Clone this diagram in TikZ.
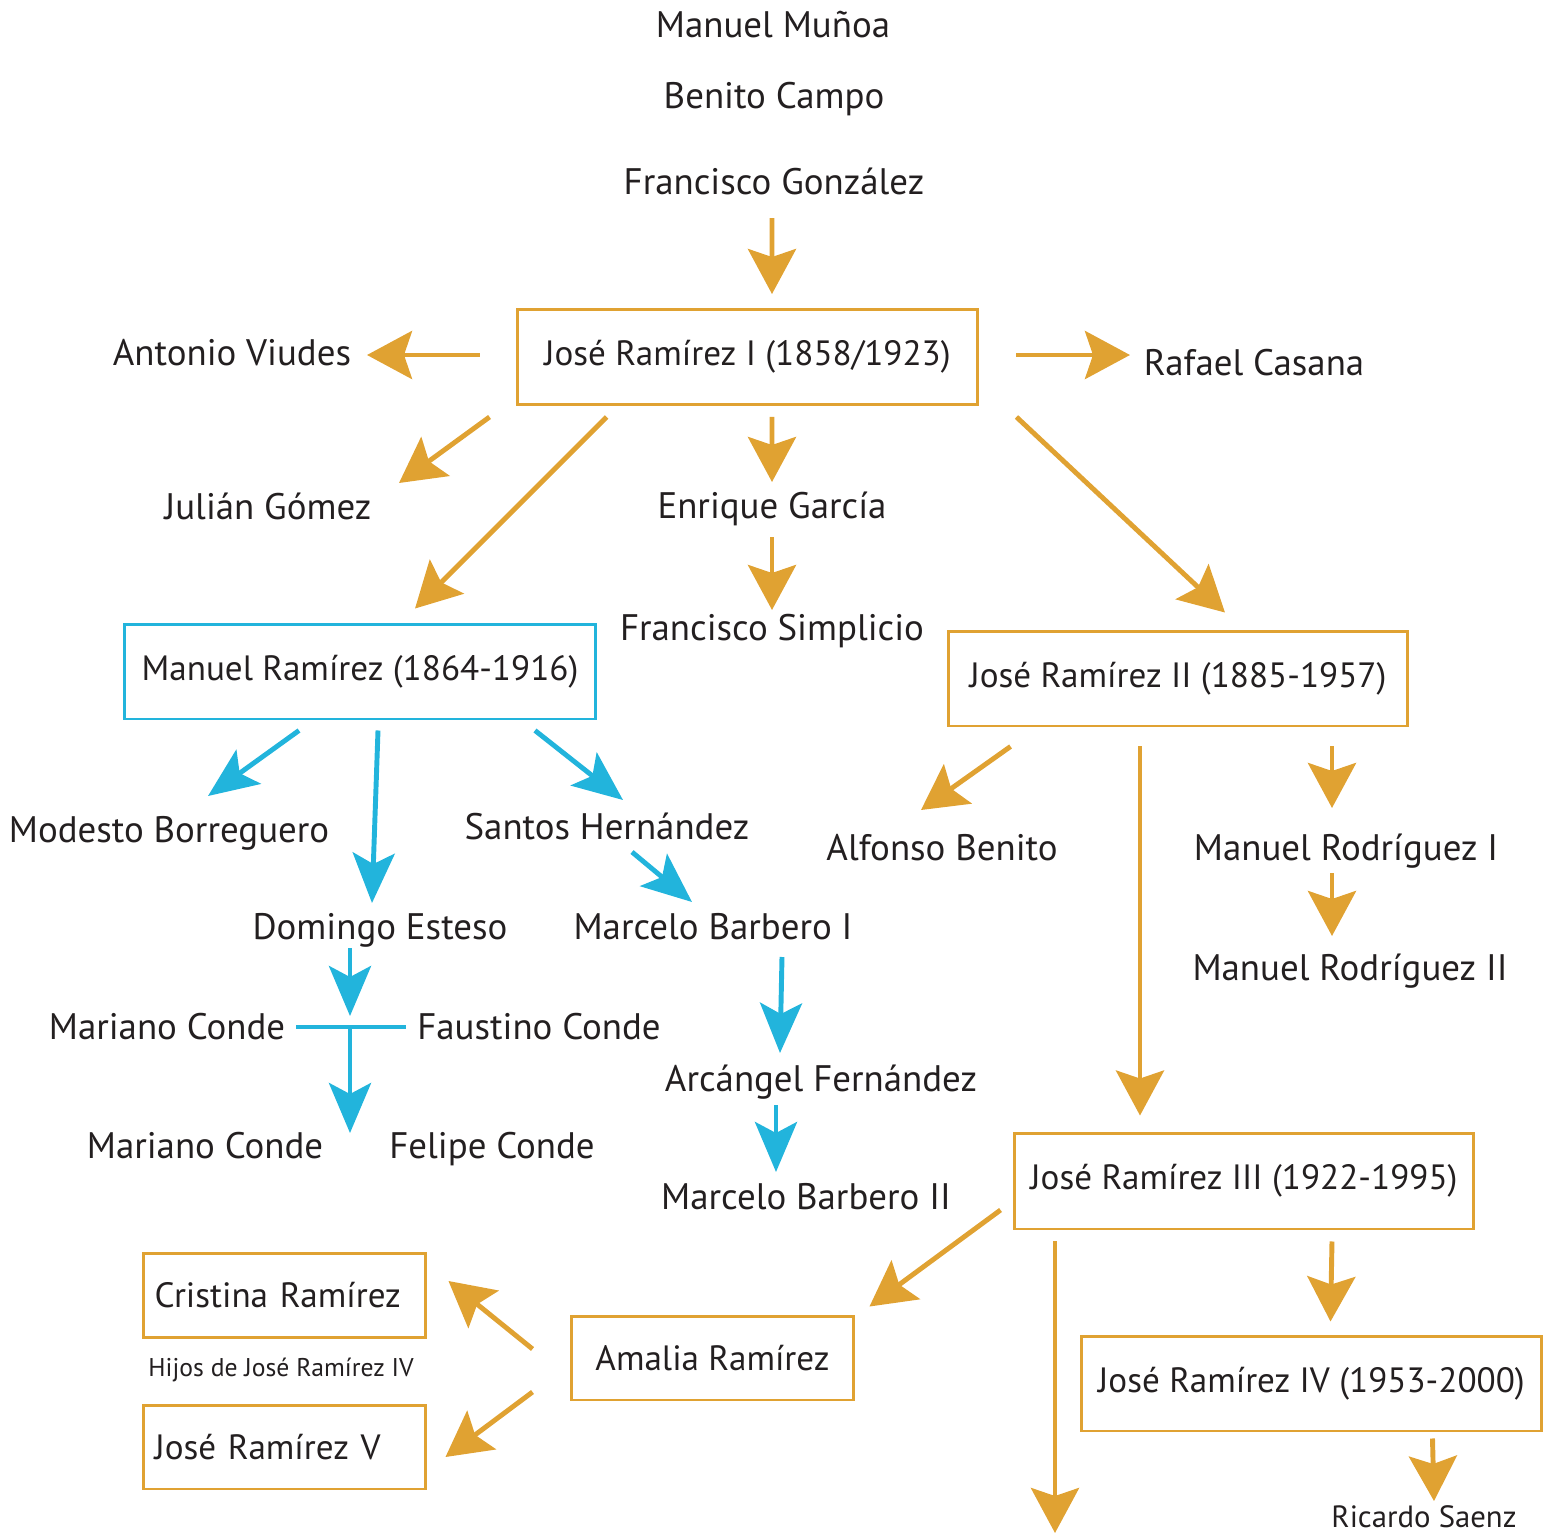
\documentclass[tikz,border=0pt]{standalone}
\usepackage{fontspec}
\setmainfont{PT Sans}
\usetikzlibrary{arrows.meta}
\definecolor{gold}{RGB}{224,162,50}
\definecolor{sky}{RGB}{34,180,220}
\definecolor{ink}{RGB}{35,31,32}

\begin{document}
\begin{tikzpicture}[x=0.02cm, y=-0.02cm,
    every node/.style={font=\fontsize{21}{25}\selectfont, text=ink},
    lbl/.style={anchor=base, inner sep=0pt},
    gbox/.style={draw=gold, line width=1.7pt, minimum width=9.2cm, minimum height=1.9cm, inner sep=0pt, font=\fontsize{20}{24}\selectfont},
    bbox/.style={gbox, draw=sky},
    sbox/.style={gbox, minimum width=0cm, minimum height=1.68cm, text width=5.2cm, inner xsep=0.23cm, align=left},
    garr/.style={draw=gold, line width=2.8pt, -{Stealth[length=0.9cm, width=0.96cm, inset=0.16cm]}},
    barr/.style={draw=sky, line width=2.8pt, -{Stealth[length=1cm, width=0.84cm, inset=0.22cm]}}]
      \useasboundingbox (0,0) rectangle (1543,1535);

      % Oldest masters
      \node[lbl] (MM) at (773,37) {Manuel Muñoa};
      \node[lbl] (BC) at (774,108) {Benito Campo};
      \node[lbl] (FG) at (774,194) {Francisco González};

      % José Ramírez I and his pupils
      \node[gbox, minimum width=9.22cm] (JRI) at (747.5,357) {José Ramírez I (1858/1923)};
      \node[lbl] (AV) at (232,365) {Antonio Viudes};
      \node[lbl] (RC) at (1254,375) {Rafael Casana};
      \node[lbl] (JG) at (268,519) {Julián Gómez};
      \node[lbl] (EG) at (772,518) {Enrique García};
      \node[lbl] (FS) at (772,640) {Francisco Simplicio};

      % Manuel Ramírez branch
      \node[bbox, minimum width=9.44cm] (MR) at (360,671.5) {Manuel Ramírez (1864-1916)};
      \node[lbl] (MB) at (169,842) {Modesto Borreguero};
      \node[lbl] (DE) at (380,939) {Domingo Esteso};
      \node[lbl] (SH) at (607,839) {Santos Hernández};
      \node[lbl] (MBI) at (713,939) {Marcelo Barbero I};
      \node[lbl] (AF) at (821,1091) {Arcángel Fernández};
      \node[lbl] (MBII) at (806,1209) {Marcelo Barbero II};
      \node[lbl] (MC1) at (167,1039) {Mariano Conde};
      \node[lbl] (FC) at (539,1039) {Faustino Conde};
      \node[lbl] (MC2) at (205,1158) {Mariano Conde};
      \node[lbl] (FeC) at (492,1158) {Felipe Conde};
      \coordinate (knot) at (350,1027);
      \coordinate (kids) at (350,1133);

      % José Ramírez II branch
      \node[gbox] (JRII) at (1178,678.5) {José Ramírez II (1885-1957)};
      \node[lbl] (AB) at (942,860) {Alfonso Benito};
      \node[lbl] (MRI) at (1346,860) {Manuel Rodríguez I};
      \node[lbl] (MRII) at (1350,980) {Manuel Rodríguez II};

      % José Ramírez III and after
      \node[gbox, minimum height=1.92cm] (JRIII) at (1244,1181) {José Ramírez III (1922-1995)};
      \node[gbox] (JRIV) at (1311.5,1383.5) {José Ramírez IV (1953-2000)};
      \node[lbl, font=\fontsize{17.5}{21}\selectfont] (RS) at (1424,1527) {Ricardo Saenz};
      \node[gbox, minimum width=5.66cm, minimum height=1.68cm] (AR) at (712.5,1358) {Amalia Ramírez};
      \node[sbox] (CR) at (284.5,1295.5) {Cristina Ramírez};
      \node[sbox] (JRV) at (284.5,1447) {José Ramírez V};
      \node[lbl, font=\fontsize{14.6}{18}\selectfont] (HJ) at (281,1376) {Hijos de José Ramírez IV};
      \coordinate (cont) at (1055,1533);

      % Arrows from José Ramírez I
      \draw[garr] ([shift={(-2,24)}]FG.base) -- ([shift={(24.5,-14)}]JRI.north);
      \draw[garr] ([shift={(-36,-2)}]JRI.west) -- ([shift={(135,-10)}]AV.base);
      \draw[garr] ([shift={(37,-2)}]JRI.east) -- ([shift={(-124,-20)}]RC.base);
      \draw[garr] ([shift={(-26,11)}]JRI.south west) -- ([shift={(131,-36)}]JG.base);
      \draw[garr] ([shift={(91,11)}]JRI.south west) -- ([shift={(55,-14)}]MR.north);
      \draw[garr] ([shift={(24.5,11)}]JRI.south) -- ([shift={(0,-36)}]EG.base);
      \draw[garr] ([shift={(0,19)}]EG.base) -- ([shift={(0,-30)}]FS.base);
      \draw[garr] ([shift={(37,11)}]JRI.south east) -- ([shift={(47,-17)}]JRII.north);

      % Arrows from Manuel Ramírez
      \draw[barr] ([shift={(-61,10)}]MR.south) -- ([shift={(39,-46)}]MB.base);
      \draw[barr] ([shift={(18,10)}]MR.south) -- ([shift={(-8,-36)}]DE.base);
      \draw[barr] ([shift={(175,10)}]MR.south) -- ([shift={(16,-39)}]SH.base);
      \draw[barr] ([shift={(25,13)}]SH.base) -- ([shift={(-21,-37)}]MBI.base);
      \draw[barr] ([shift={(69,18)}]MBI.base) -- ([shift={(-41,-38)}]AF.base);
      \draw[barr] ([shift={(-45,14)}]AF.base) -- ([shift={(-30,-37)}]MBII.base);
      \draw[barr] ([shift={(-30,9)}]DE.base) -- ([shift={(0,-11)}]knot);
      \draw[draw=sky, line width=2.8pt] ([shift={(129,-12)}]MC1.base) -- ([shift={(-133,-12)}]FC.base);
      \draw[barr] (knot) -- (kids);

      % Arrows from José Ramírez II
      \draw[garr] ([shift={(64,19)}]JRII.south west) -- ([shift={(-21,-50)}]AB.base);
      \draw[garr] ([shift={(-38,19)}]JRII.south) -- ([shift={(-104,-16)}]JRIII.north);
      \draw[garr] ([shift={(154,19)}]JRII.south) -- ([shift={(-14,-52)}]MRI.base);
      \draw[garr] ([shift={(-14,13)}]MRI.base) -- ([shift={(-18,-44)}]MRII.base);

      % Arrows from José Ramírez III on
      \draw[garr] ([shift={(-12,29)}]JRIII.west) -- ([shift={(14,-8)}]AR.north east);
      \draw[garr] ([shift={(-189,11)}]JRIII.south) -- (cont);
      \draw[garr] ([shift={(88,11)}]JRIII.south) -- ([shift={(19,-13)}]JRIV.north);
      \draw[garr] ([shift={(121,6)}]JRIV.south) -- ([shift={(10,-26)}]RS.base);
      \draw[garr] ([shift={(-37,-9)}]AR.west) -- ([shift={(21,-14.5)}]CR.east);
      \draw[garr] ([shift={(-37,34)}]AR.west) -- ([shift={(18,10)}]JRV.east);
    \end{tikzpicture}
\end{document}
